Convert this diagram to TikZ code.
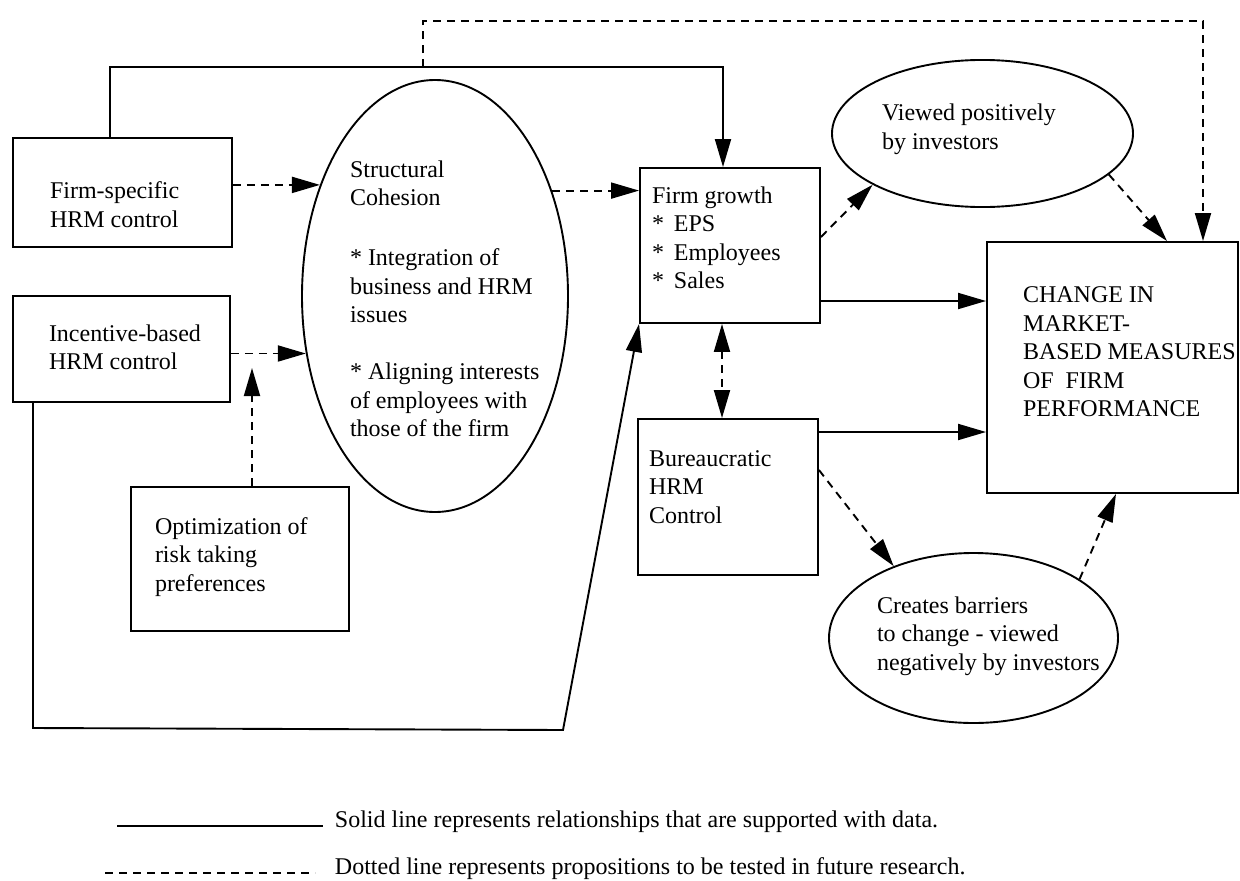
\documentclass[tikz,border=0pt]{standalone}
\usepackage{fontspec}
\setmainfont{Liberation Serif}
\usetikzlibrary{arrows.meta,shapes.geometric}
\newcommand{\tbox}[5]{\parbox[c][#2pt][t]{#1pt}{\vspace*{#3pt}\hspace*{#4pt}\begin{tabular}[t]{@{}l@{}}#5\end{tabular}}}
\newcommand{\bul}{\makebox[22pt][l]{*}}
\begin{document}
\begin{tikzpicture}[x=1pt,y=-1pt,
  font=\fontsize{24}{28.5}\selectfont,
  line width=1.9pt,
  box/.style={draw, rectangle, inner sep=0pt},
  oval/.style={draw, ellipse, inner sep=0pt},
  sarrow/.style={-{Triangle[length=28pt,width=16pt]}},
  darrow/.style={dash pattern=on 8pt off 6pt, -{Triangle[length=28pt,width=16pt]}},
  dline/.style={dash pattern=on 8pt off 6pt}]
\useasboundingbox (0,0) rectangle (1240,881);

% nodes
\node[box] (fs) at (122.5,192.5) {\tbox{219}{109}{41}{37}{Firm-specific\\HRM control}};
\node[box] (ib) at (121.5,349) {\tbox{217}{106}{25.5}{36}{Incentive-based\\HRM control}};
\node[box] (opt) at (240,559) {\tbox{218}{144}{27.5}{24}{Optimization of\\risk taking\\preferences}};
\node[oval, minimum width=266pt, minimum height=432pt] (sc) at (435,296)
  {\tbox{188}{305}{14}{9}{Structural\\Cohesion\\[31.5pt]* Integration of\\business and HRM\\issues\\[28.5pt]* Aligning interests\\of employees with\\those of the firm}};
\node[box] (fg) at (730,245.5) {\tbox{180}{155}{15.5}{12}{Firm growth\\\bul EPS\\\bul Employees\\\bul Sales}};
\node[box] (bu) at (728,497) {\tbox{180}{156}{27.5}{11}{Bureaucratic\\HRM\\Control}};
\node[box] (ch) at (1112.5,367.5) {\tbox{251}{251}{41}{36}{CHANGE IN\\MARKET-\\BASED MEASURES\\OF\ \ FIRM\\PERFORMANCE}};
\node[oval, minimum width=301pt, minimum height=147pt] (vp) at (982.5,133.5)
  {\tbox{212}{104}{19.5}{5.5}{Viewed positively\\by investors}};
\node[oval, minimum width=289pt, minimum height=170pt] (cb) at (973.5,638)
  {\tbox{204}{120}{15.5}{5.5}{Creates barriers\\to change - viewed\\negatively by investors}};

% helper coordinates
\coordinate (t1) at (110,67);
\coordinate (t2) at (723,67);
\coordinate (d1) at (423,21);
\coordinate (d2) at (1203,21);
\coordinate (b1) at (33,728);
\coordinate (b2) at (563,730);
\coordinate (oe) at (252,368);
\coordinate (fgo) at ([yshift=-55.5pt]fg.east);
\coordinate (buo) at ([yshift=65pt]bu.east);
\coordinate (fgb) at ([xshift=-8pt]fg.south);

% connectors
\draw[sarrow] (t1 |- fs.north) -- (t1) -- (t2) -- (t2 |- fg.north);
\draw[darrow] (d1 |- t1) -- (d1) -- (d2) -- (d2 |- ch.north);
\draw[sarrow] (b1 |- ib.south) -- (b1) -- (b2) -- (fg.south west);
\draw[darrow] (sc.136.5 -| fs.east) -- (sc.136.5);
\draw[darrow] (sc.204.7 -| ib.east) -- (sc.204.7);
\draw[darrow] (oe |- opt.north) -- (oe);
\draw[darrow] (sc.42.2) -- (sc.42.2 -| fg.west);
\draw[darrow] ([yshift=8.5pt]fg.east) -- (vp.205);
\draw[darrow] (vp.342.8) -- ([xshift=54.5pt]ch.north);
\draw[sarrow] (fgo) -- (fgo -| ch.west);
\draw[sarrow] (buo) -- (buo -| ch.west);
\draw[dline, {Triangle[length=28pt,width=16pt]}-{Triangle[length=28pt,width=16pt]}] (fgb) -- (fgb |- bu.north);
\draw[darrow] ([yshift=27pt]bu.east) -- (cb.138.7);
\draw[darrow] (cb.29.3) -- ([xshift=3.5pt]ch.south);

% legend
\node[anchor=base west, inner sep=0pt] (l1) at (334,827.5) {Solid line represents relationships that are supported with data.};
\node[anchor=base west, inner sep=0pt] (l2) at (334,874.5) {Dotted line represents propositions to be tested in future research.};
\coordinate (ls1) at (117,826);
\coordinate (ls2) at (323,826);
\coordinate (ld1) at (105,873);
\coordinate (ld2) at (315,873);
\draw (ls1) -- (ls2);
\draw[dline] (ld1) -- (ld2);
\end{tikzpicture}
\end{document}
